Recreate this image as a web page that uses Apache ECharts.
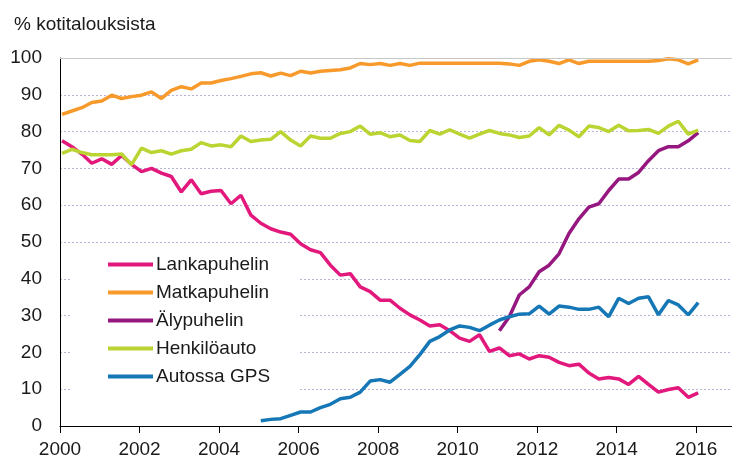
<!DOCTYPE html>
<html>
<head>
<meta charset="utf-8">
<script src="https://cdn.jsdelivr.net/npm/echarts@6/dist/echarts.min.js"></script>
<style>
  html, body { margin: 0; padding: 0; background: #fff; }
  #chart { width: 732px; height: 459px; }
</style>
</head>
<body>
<div id="chart"></div>
<script>
// quarterly survey rounds, first one early 2000
var startYear = 2000.05;
var step = 0.25;

var names = ['Lankapuhelin', 'Matkapuhelin', 'Älypuhelin', 'Henkilöauto', 'Autossa GPS'];
var colors = ['#e2187c', '#f89a2b', '#95177f', '#bcd432', '#1577b5'];

// % of households, one value per quarter (index 0 = 2000 Q1)
var lankapuhelin = [77.5, 75.9, 73.9, 71.4, 72.6, 71.1, 73.5, 71.1, 69.1, 70.0,
  68.7, 67.8, 63.6, 66.9, 63.1, 63.8, 64.0, 60.4, 62.7, 57.3,
  55.1, 53.6, 52.7, 52.1, 49.5, 47.9, 47.1, 43.7, 41.0, 41.4,
  37.8, 36.5, 34.2, 34.2, 32.0, 30.2, 28.8, 27.2, 27.5, 25.9,
  23.9, 23.0, 24.8, 20.3, 21.2, 19.1, 19.6, 18.2, 19.1, 18.7,
  17.3, 16.4, 16.8, 14.4, 12.8, 13.2, 12.8, 11.3, 13.5, 11.3,
  9.2, 9.9, 10.4, 7.8, 9.0];
var matkapuhelin = [84.7, 85.6, 86.5, 87.9, 88.3, 89.9, 89.0, 89.5, 89.9, 90.8,
  89.0, 91.2, 92.2, 91.6, 93.2, 93.2, 93.9, 94.4, 95.0, 95.7,
  96.0, 95.1, 95.9, 95.2, 96.4, 95.9, 96.4, 96.6, 96.8, 97.3,
  98.5, 98.2, 98.5, 98.0, 98.5, 98.0, 98.6, 98.6, 98.6, 98.6,
  98.6, 98.6, 98.6, 98.6, 98.6, 98.4, 98.0, 99.1, 99.5, 99.1,
  98.5, 99.5, 98.5, 99.1, 99.1, 99.1, 99.1, 99.1, 99.1, 99.1,
  99.3, 99.8, 99.5, 98.4, 99.5];
// smartphone asked from 2011 (index 44)
var alypuhelin = [25.9, 29.7, 35.6, 37.8, 41.9, 43.7, 46.8, 52.3, 56.3, 59.5,
  60.4, 64.0, 67.1, 67.1, 68.9, 72.1, 74.8, 75.9, 75.9, 77.5,
  79.7];
var alyStart = 44;
var henkiloauto = [74.1, 75.2, 74.3, 73.7, 73.7, 73.7, 73.9, 71.0, 75.5, 74.3,
  74.8, 73.9, 74.8, 75.2, 77.0, 76.1, 76.4, 75.9, 78.8, 77.3,
  77.7, 77.9, 80.0, 77.7, 76.1, 78.8, 78.2, 78.2, 79.5, 80.0,
  81.5, 79.3, 79.7, 78.6, 79.1, 77.6, 77.3, 80.3, 79.3, 80.5,
  79.3, 78.2, 79.3, 80.3, 79.5, 79.1, 78.4, 78.8, 81.1, 79.1,
  81.7, 80.4, 78.6, 81.5, 81.1, 80.0, 81.7, 80.2, 80.3, 80.6,
  79.5, 81.5, 82.8, 79.3, 80.4];
// GPS asked from 2005 (index 20)
var autossaGps = [1.4, 1.8, 2.0, 2.9, 3.8, 3.8, 5.0, 5.9, 7.4, 7.8,
  9.2, 12.2, 12.6, 11.9, 14.0, 16.2, 19.4, 23.0, 24.3, 26.1,
  27.2, 26.8, 25.9, 27.4, 28.8, 29.7, 30.4, 30.5, 32.6, 30.4,
  32.6, 32.3, 31.7, 31.7, 32.3, 29.7, 34.7, 33.3, 34.7, 35.1,
  30.2, 34.1, 32.9, 30.2, 33.5];
var gpsStart = 20;

function toPoints(values, offset) {
  return values.map(function (v, i) {
    return [startYear + (offset + i) * step, v];
  });
}

var seriesData = [
  toPoints(lankapuhelin, 0),
  toPoints(matkapuhelin, 0),
  toPoints(alypuhelin, alyStart),
  toPoints(henkiloauto, 0),
  toPoints(autossaGps, gpsStart)
];

var font = 'Liberation Sans, Arial, sans-serif';
var textColor = '#1a1a1a';

var series = names.map(function (n, i) {
  return {
    name: n,
    type: 'line',
    data: seriesData[i],
    showSymbol: false,
    symbol: 'none',
    lineStyle: {width: 3.5, color: colors[i]},
    itemStyle: {color: colors[i]},
    z: 3
  };
});
// solid top line at 100
series[0].markLine = {
  silent: true,
  symbol: 'none',
  label: {show: false},
  lineStyle: {color: '#c8c8c8', type: 'solid', width: 1},
  data: [{yAxis: 100}]
};

var chart = echarts.init(document.getElementById('chart'));
chart.setOption({
  animation: false,
  backgroundColor: '#fff',
  title: {
    text: '% kotitalouksista',
    left: 9, top: 10,
    textStyle: {fontFamily: font, fontSize: 19, fontWeight: 'normal', color: textColor}
  },
  grid: {left: 60, right: 0, top: 58, bottom: 32},
  legend: {
    orient: 'vertical',
    left: 72, top: 248,
    padding: [7, 30, 14, 36],
    backgroundColor: '#fff',
    itemWidth: 45, itemHeight: 4,
    itemGap: 9,
    icon: 'rect',
    data: names,
    textStyle: {fontFamily: font, fontSize: 19, color: textColor, lineHeight: 19, padding: [0, 0, 0, -2]}
  },
  xAxis: {
    type: 'value',
    min: 2000, max: 2016.9, interval: 2,
    axisLine: {lineStyle: {color: '#000', width: 1}},
    axisTick: {show: true, length: 7, lineStyle: {color: '#000'}},
    axisLabel: {
      fontFamily: font, fontSize: 19, color: textColor, margin: 14,
      showMaxLabel: false,
      formatter: function (v) { return String(v); }
    },
    splitLine: {show: false}
  },
  yAxis: {
    type: 'value',
    min: 0, max: 100, interval: 10,
    axisLine: {show: true, lineStyle: {color: '#000', width: 1}},
    axisTick: {show: false},
    axisLabel: {fontFamily: font, fontSize: 19, color: textColor, margin: 18},
    splitLine: {show: true, lineStyle: {color: '#b9b2d6', type: [2, 2], width: 1}}
  },
  series: series
});
</script>
</body>
</html>
